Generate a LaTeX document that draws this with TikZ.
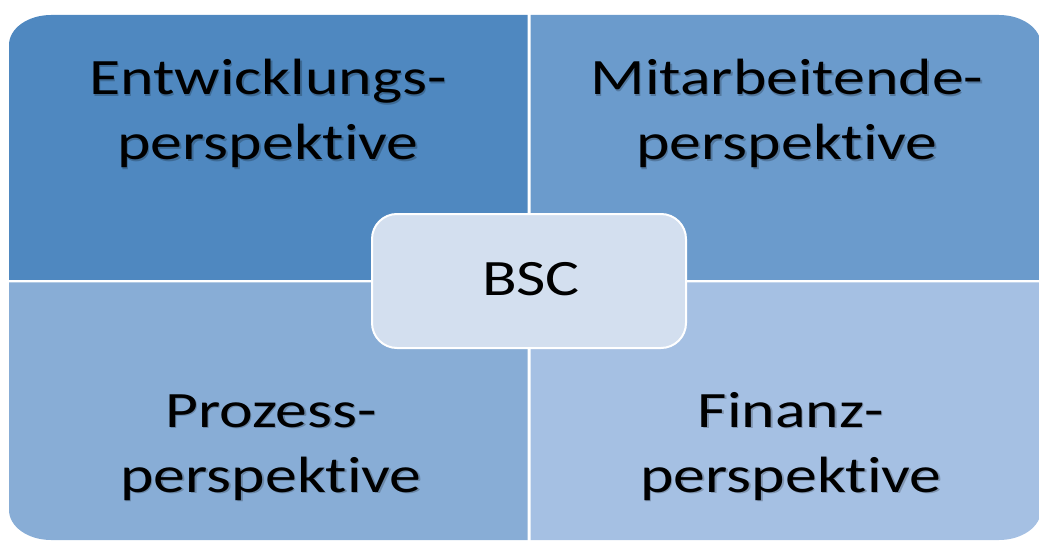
\documentclass[tikz,border=0pt]{standalone}
\usepackage{graphicx}
\usepackage{fontspec}
\setmainfont{Carlito}[Ligatures=NoCommon]
\definecolor{qtl}{HTML}{4F88C0}
\definecolor{qtr}{HTML}{6B9BCC}
\definecolor{qbl}{HTML}{88ADD6}
\definecolor{qbr}{HTML}{A5C0E3}
\definecolor{core}{HTML}{D3DFEF}
\newcommand{\wide}[1]{\scalebox{1.25}[1]{#1}}
\tikzset{
  label text/.style={font=\fontsize{51}{65}\selectfont, align=center, inner sep=0pt, anchor=base, text=black},
  label shadow/.style={label text, text=black, opacity=0.22},
}
\newcommand{\quadlabel}[4]{%
  \node[label shadow] at ([shift={(1.4,-1.4)}]#2) {\wide{#3}\\\wide{#4}};
  \node[label text] (#1) at (#2) {\wide{#3}\\\wide{#4}};
}
\begin{document}
\begin{tikzpicture}[x=1pt,y=1pt]
\useasboundingbox (0,0) rectangle (1039,542);
\def\rx{42}
\def\ry{30}
% four quadrants of the matrix, each with one rounded outer corner
\fill[qtl] (527.5,262.2) -- (9,262.2) -- (9,527-\ry) arc[start angle=180,end angle=90,x radius=\rx,y radius=\ry] -- (527.5,527) -- cycle;
\fill[qtr] (530.5,262.2) -- (1041,262.2) -- (1041,527-\ry) arc[start angle=0,end angle=90,x radius=\rx,y radius=\ry] -- (530.5,527) -- cycle;
\fill[qbl] (527.5,259.7) -- (9,259.7) -- (9,2+\ry) arc[start angle=180,end angle=270,x radius=\rx,y radius=\ry] -- (527.5,2) -- cycle;
\fill[qbr] (530.5,259.7) -- (1041,259.7) -- (1041,2+\ry) arc[start angle=0,end angle=-90,x radius=\rx,y radius=\ry] -- (530.5,2) -- cycle;
% quadrant labels
\quadlabel{tl}{268,382}{Entwicklungs-}{perspektive}
\quadlabel{tr}{787,382}{Mitarbeitende-}{perspektive}
\quadlabel{bl}{271,50}{Prozess-}{perspektive}
\quadlabel{br}{791,50}{Finanz-}{perspektive}
% central box
\node[draw=white, line width=2pt, fill=core, rounded corners=25pt, minimum width=314pt, minimum height=134pt, inner sep=0pt] (bsc) at (529,261) {};
\node[font=\fontsize{51}{61}\selectfont, inner sep=0pt, anchor=base] (bsctext) at (531,247) {\wide{BSC}};
\end{tikzpicture}
\end{document}
